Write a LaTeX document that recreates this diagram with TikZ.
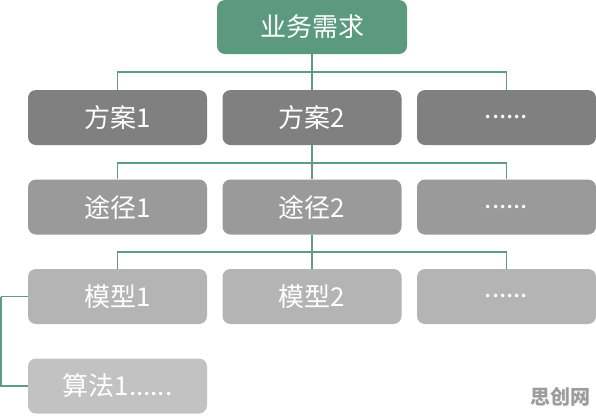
\documentclass[tikz,border=0pt]{standalone}
\usepackage{fontspec}
\newfontfamily\cjk{Noto Sans CJK SC}
\definecolor{topgreen}{HTML}{5B9A7E}
\definecolor{linkgreen}{HTML}{5F9C88}
\definecolor{rowA}{HTML}{808080}
\definecolor{rowB}{HTML}{9A9A9A}
\definecolor{rowC}{HTML}{B4B4B4}
\definecolor{rowD}{HTML}{C2C2C2}
\definecolor{markgray}{HTML}{9C9C9C}
\begin{document}
\begin{tikzpicture}[x=1pt, y=-1pt,
        box/.style={rounded corners=8pt, minimum width=179pt, minimum height=55pt,
            inner sep=0pt, text=white, font=\cjk\fontsize{26}{26}\selectfont},
        link/.style={draw=linkgreen, line width=1.2pt}]
            \useasboundingbox (0,0) rectangle (596,416);

            \node[box, fill=topgreen, minimum width=190pt, minimum height=54pt] (T) at (312, 27) {业务需求};

            \node[box, fill=rowA] (A1) at (117.5, 117.5) {方案1};
            \node[box, fill=rowA] (A2) at (312, 117.5) {方案2};
            \node[box, fill=rowA] (A3) at (506.5, 117.5) {......};

            \node[box, fill=rowB] (B1) at (117.5, 207) {途径1};
            \node[box, fill=rowB] (B2) at (312, 207) {途径2};
            \node[box, fill=rowB] (B3) at (506.5, 207) {......};

            \node[box, fill=rowC] (C1) at (117.5, 296.5) {模型1};
            \node[box, fill=rowC] (C2) at (312, 296.5) {模型2};
            \node[box, fill=rowC] (C3) at (506.5, 296.5) {......};

            \node[box, fill=rowD] (D1) at (117.5, 386) {算法1......};

            \coordinate (J1) at (312, 72);
            \coordinate (J2) at (312, 163);
            \coordinate (J3) at (312, 252);
            \coordinate (JL) at (1, 296.5);

            \draw[link] (T.south) -- (A2.north);
            \draw[link] (A1.north) |- (J1);
            \draw[link] (A3.north) |- (J1);

            \draw[link] (A2.south) -- (B2.north);
            \draw[link] (B1.north) |- (J2);
            \draw[link] (B3.north) |- (J2);

            \draw[link] (B2.south) -- (C2.north);
            \draw[link] (C1.north) |- (J3);
            \draw[link] (C3.north) |- (J3);

            \draw[link] (C1.west) -- (JL);
            \draw[link] (JL) |- (D1.west);

            \node[text=markgray, font=\cjk\bfseries\fontsize{20}{20}\selectfont] (W) at (560, 397) {思创网};
\end{tikzpicture}
\end{document}
